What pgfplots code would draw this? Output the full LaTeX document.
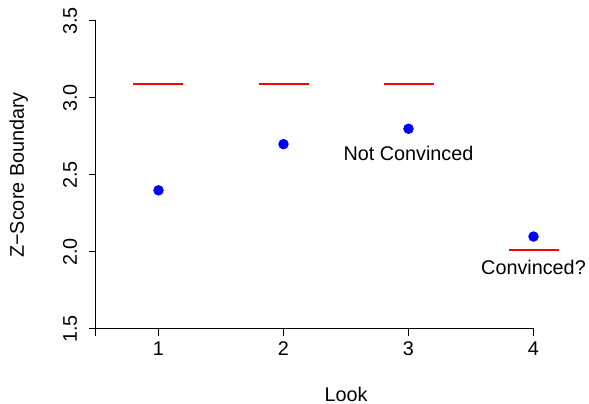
\documentclass[border=0pt]{standalone}
\usepackage{pgfplots}
\pgfplotsset{compat=1.18}
\usepackage{fontspec}
\setmainfont{Liberation Sans}
\begin{document}
\fontsize{9.9}{12}\selectfont
\begin{tikzpicture}
\begin{axis}[
    x=62.5pt, y=77pt,
    xmin=0.5, xmax=4.5, ymin=1.5, ymax=3.5,
    axis x line*=bottom, axis y line*=left,
    x axis line style={draw=none},
    y axis line style={black, line width=0.5pt},
    clip=false,
    tick align=outside, major tick length=3.5pt,
    tick style={black, line width=0.5pt},
    xtick={0.5,1,2,3,4}, xticklabels={,1,2,3,4},
    ytick={1.5,2,2.5,3,3.5}, yticklabels={1.5,2.0,2.5,3.0,3.5},
    xticklabel style={anchor=base, inner sep=0pt, yshift=-10pt},
    yticklabel style={rotate=90, anchor=base, inner sep=0pt, yshift=6pt},
    every axis x label/.style={at={([yshift=-36.5pt]axis description cs:0.5,0)}, anchor=base},
    every axis y label/.style={at={([xshift=-36pt]axis description cs:0,0.5)}, rotate=90, anchor=base},
    xlabel={Look},
    ylabel={Z−Score Boundary},
]
% x axis line runs from the first tick to the last, as in R
\draw[black, line width=0.5pt] (axis cs:0.5,1.5) -- (axis cs:4,1.5);

% boundaries
\addplot[red, line width=1pt, unbounded coords=jump] coordinates {
    (0.8,3.09) (1.2,3.09) (1.5,nan)
    (1.8,3.09) (2.2,3.09) (2.5,nan)
    (2.8,3.09) (3.2,3.09) (3.5,nan)
    (3.8,2.01) (4.2,2.01)};

% observed z-scores
\addplot[only marks, mark=*, mark size=2.4pt, color=blue] coordinates {
    (1,2.4) (2,2.7) (3,2.8) (4,2.1)};

\node at (axis cs:3,2.64) {Not Convinced};
\node at (axis cs:4,1.9) {Convinced?};

\coordinate (bbl) at (axis cs:-0.268,1.013);
\coordinate (btr) at (axis cs:4.444,3.636);
\end{axis}
\pgfresetboundingbox
\path[use as bounding box] (bbl) rectangle (btr);
\end{tikzpicture}
\end{document}
